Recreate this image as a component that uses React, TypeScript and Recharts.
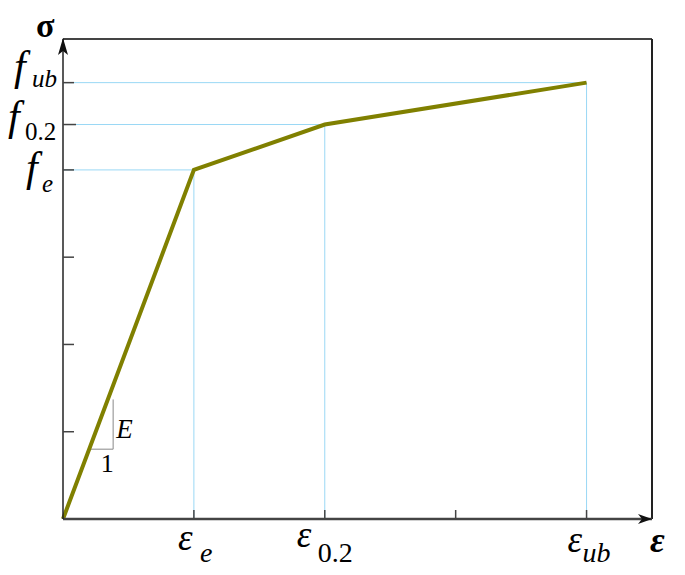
import { LineChart, Line, XAxis, YAxis, ReferenceLine, ReferenceDot } from 'recharts';

// strain / stress points of the curve
const epsValues = [0, 1, 2, 4];
const sigmaValues = [0, 4, 4.52, 5];

const xTicks = [1, 2, 3, 4];
const xTickSubs = ['e', '0.2', '', 'ub'];
const yTicks = [1, 2, 3, 4, 4.52, 5];
const yTickSubs = ['', '', '', 'e', '0.2', 'ub'];

// small slope triangle next to the elastic branch
const slopeX = [0.2, 0.383];
const slopeY = [0.8, 1.37];

const data = epsValues.map((eps, i) => ({ eps, sigma: sigmaValues[i] }));

const SERIF = 'Liberation Serif';
const AXIS = '#444';
const GUIDE = '#9ad8f5';

// label placement relative to the tick (main glyph dx/dy, subscript dx/dy)
const xLab: Record<string, number[]> = { e: [-16, 31, 6, 43], '0.2': [-28, 28, -7, 43], ub: [-19, 33, -4, 43] };
const yLab: Record<string, number[]> = { ub: [-49, -3, -31, 4], '0.2': [-55, 5, -38, 15], e: [-37, 11, -21, 22] };

function XTick(props: any) {
  const { x, y, payload } = props;
  const sub = xTickSubs[xTicks.indexOf(payload.value)];
  const o = xLab[sub];
  return (
    <g>
      <line x1={x} x2={x} y1={y} y2={y - 9} stroke={AXIS} strokeWidth={1.5} />
      {o && (
        <g style={{ fontFamily: SERIF }} fill="#000">
          <text x={x + o[0]} y={y + o[1]} fontSize={37} fontStyle="italic">ε</text>
          <text x={x + o[2]} y={y + o[3]} fontSize={28} fontStyle={sub === '0.2' ? 'normal' : 'italic'}>{sub}</text>
        </g>
      )}
    </g>
  );
}

function YTick(props: any) {
  const { x, y, payload } = props;
  const sub = yTickSubs[yTicks.indexOf(payload.value)];
  const o = yLab[sub];
  return (
    <g>
      <line x1={x} x2={x + (sub === '0.2' ? 13 : 11)} y1={y} y2={y} stroke={AXIS} strokeWidth={1.5} />
      {o && (
        <g style={{ fontFamily: SERIF }} fill="#000">
          <text x={x + o[0]} y={y + o[1]} fontSize={42} fontStyle="italic">f</text>
          <text x={x + o[2]} y={y + o[3]} fontSize={25} fontStyle={sub === '0.2' ? 'normal' : 'italic'}>{sub}</text>
        </g>
      )}
    </g>
  );
}

const XArrow = (p: any) => (
  <g>
    <path d={`M${p.cx} ${p.cy} L${p.cx - 14} ${p.cy - 5} L${p.cx - 10} ${p.cy} L${p.cx - 14} ${p.cy + 5} Z`} fill="#111" />
    <text x={p.cx - 2} y={p.cy + 33} style={{ fontFamily: SERIF }} fontSize={36} fontWeight="bold" fontStyle="italic" fill="#000">ε</text>
  </g>
);

const YArrow = (p: any) => (
  <g>
    <path d={`M${p.cx} ${p.cy - 1} L${p.cx - 5} ${p.cy + 16} L${p.cx} ${p.cy + 12} L${p.cx + 5} ${p.cy + 16} Z`} fill="#111" />
    <text x={p.cx - 27} y={p.cy - 2} style={{ fontFamily: SERIF }} fontSize={34} fontWeight="bold" fill="#000">σ</text>
  </g>
);

const SlopeLabels = (p: any) => (
  <g style={{ fontFamily: SERIF }} fill="#000">
    <text x={p.cx + 3} y={p.cy - 11} fontSize={27} fontStyle="italic">E</text>
    <text x={p.cx - 6} y={p.cy + 23} fontSize={26} textAnchor="middle">1</text>
  </g>
);

export default function App() {
  return (
    <div style={{ position: 'absolute', left: 0, top: 0, width: 685, height: 575, background: '#fff' }}>
      <LineChart width={685} height={575} data={data} margin={{ top: 39, right: 33, left: 0, bottom: 0 }}>
        <XAxis
          dataKey="eps"
          type="number"
          domain={[0, 4.5]}
          ticks={xTicks}
          height={56}
          tickSize={0}
          tickMargin={0}
          tickLine={false}
          axisLine={{ stroke: AXIS, strokeWidth: 2.5 }}
          tick={<XTick />}
          interval={0}
        />
        <YAxis
          dataKey="sigma"
          type="number"
          domain={[0, 5.5]}
          ticks={yTicks}
          width={63}
          tickSize={0}
          tickMargin={0}
          tickLine={false}
          axisLine={{ stroke: '#222', strokeWidth: 1.5 }}
          tick={<YTick />}
          interval={0}
        />
        <ReferenceLine y={5.5} stroke={AXIS} strokeWidth={2} />
        <ReferenceLine x={4.5} stroke="#222" strokeWidth={2} />
        {data.slice(1).map((d) => (
          <ReferenceLine key={'h' + d.eps} segment={[{ x: 0, y: d.sigma }, { x: d.eps, y: d.sigma }]} stroke={GUIDE} strokeWidth={1} />
        ))}
        {data.slice(1).map((d) => (
          <ReferenceLine key={'v' + d.eps} segment={[{ x: d.eps, y: 0 }, { x: d.eps, y: d.sigma }]} stroke={GUIDE} strokeWidth={1} />
        ))}
        <ReferenceLine segment={[{ x: slopeX[0], y: slopeY[0] }, { x: slopeX[1], y: slopeY[0] }]} stroke="#888" strokeWidth={1} />
        <ReferenceLine segment={[{ x: slopeX[1], y: slopeY[0] }, { x: slopeX[1], y: slopeY[1] }]} stroke="#888" strokeWidth={1} />
        <ReferenceDot x={slopeX[1]} y={slopeY[0]} shape={<SlopeLabels />} />
        <Line
          type="linear"
          dataKey="sigma"
          stroke="#808000"
          strokeWidth={4}
          dot={false}
          activeDot={false}
          isAnimationActive={false}
        />
        <ReferenceDot x={4.5} y={0} shape={<XArrow />} ifOverflow="visible" />
        <ReferenceDot x={0} y={5.5} shape={<YArrow />} ifOverflow="visible" />
      </LineChart>
    </div>
  );
}
